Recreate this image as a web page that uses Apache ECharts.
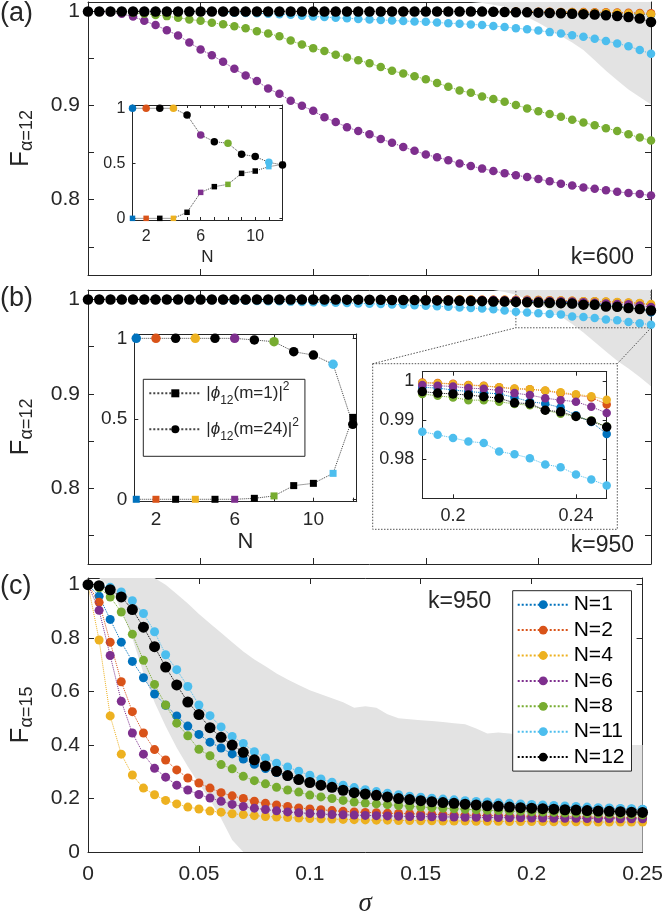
<!DOCTYPE html>
<html><head><meta charset="utf-8">
<script src="https://cdn.jsdelivr.net/npm/echarts@6/dist/echarts.min.js"></script>
<style>html,body{margin:0;padding:0;background:#fff}#c{width:666px;height:918px}</style>
</head><body><div id="c"></div>
<script>
// ---------------- DATA ----------------
const sigma = [0,0.005,0.01,0.015,0.02,0.025,0.03,0.035,0.04,0.045,0.05,0.055,0.06,0.065,0.07,0.075,0.08,0.085,0.09,0.095,
  0.1,0.105,0.11,0.115,0.12,0.125,0.13,0.135,0.14,0.145,0.15,0.155,0.16,0.165,0.17,0.175,0.18,0.185,0.19,0.195,
  0.2,0.205,0.21,0.215,0.22,0.225,0.23,0.235,0.24,0.245,0.25];
const seriesNames = ['N=1','N=2','N=4','N=6','N=8','N=11','N=12'];

// panel (a), k=600
const aN1 = [1,1,1,1,1,1,1,1,1,1, 1,1,1,1,1,1,1,1,1,1, 1,1,1,1,1,1,1,1,1,1,
  1,0.9999,0.9999,0.9998,0.9998,0.9997,0.9996,0.9995,0.9994,0.9993,
  0.9992,0.999,0.9989,0.9987,0.9985,0.9983,0.998,0.9977,0.9974,0.997, 0.9965];
const aN2 = [1,1,1,1,1,1,1,1,1,1, 1,1,1,1,1,1,1,1,1,1, 1,1,1,1,1,1,1,1,1,1,
  1,1,1,1,0.9999,0.9999,0.9999,0.9998,0.9998,0.9997,
  0.9997,0.9996,0.9995,0.9994,0.9993,0.9992,0.999,0.9988,0.9986,0.9983, 0.998];
const aN4 = [1,1,1,1,1,1,1,1,1,1, 1,1,1,1,1,1,1,1,1,1, 1,1,1,1,1,1,1,1,1,1,
  1,1,1,0.9999,0.9999,0.9998,0.9998,0.9997,0.9996,0.9995,
  0.9994,0.9993,0.9992,0.999,0.9989,0.9987,0.9985,0.9982,0.9979,0.9975, 0.997];
const aN6 = [1,0.9998,0.9992,0.9975,0.9945,0.99,0.9855,0.98,0.9745,0.967,
  0.9595,0.9535,0.9465,0.939,0.932,0.926,0.918,0.9125,0.905,0.8997,
  0.8944,0.8875,0.8825,0.877,0.873,0.8695,0.8645,0.8605,0.856,0.852,
  0.848,0.845,0.842,0.8385,0.8358,0.833,0.8305,0.828,0.826,0.824,
  0.822,0.8195,0.817,0.815,0.813,0.8115,0.81,0.8085,0.807,0.806, 0.8045];
const aN8 = [1,1,0.9998,0.9993,0.9985,0.9975,0.9962,0.995,0.9932,0.9915,
  0.99,0.988,0.9863,0.9842,0.9822,0.979,0.9765,0.9735,0.969,0.9648,
  0.961,0.958,0.954,0.951,0.948,0.945,0.941,0.937,0.934,0.931,
  0.928,0.924,0.92,0.916,0.9135,0.9095,0.907,0.904,0.9007,0.897,
  0.894,0.891,0.888,0.885,0.882,0.879,0.876,0.873,0.8695,0.866, 0.8628];
const aN11 = [1,1,1,1,1,1,1,1,1,0.9998,
  0.9996,0.9993,0.999,0.9987,0.9983,0.998,0.9976,0.997,0.9964,0.9955,
  0.9947,0.994,0.9933,0.9927,0.992,0.9915,0.991,0.9903,0.9898,0.9893,
  0.989,0.9882,0.9875,0.987,0.9862,0.9855,0.9845,0.9835,0.9822,0.981,
  0.9797,0.978,0.9765,0.9748,0.973,0.971,0.9685,0.966,0.963,0.959, 0.955];
const aN12 = [1,1,1,1,1,1,1,1,1,1, 1,1,1,1,1,1,1,1,1,1, 1,1,1,1,1,1,1,1,1,1,
  1,1,1,1,1,0.9998,0.9996,0.9994,0.9992,0.999,
  0.9987,0.9984,0.998,0.9976,0.9971,0.9966,0.996,0.9952,0.9941,0.9925, 0.9888];
const bandA_x  = [0.17,0.175,0.18,0.185,0.19,0.195,0.2,0.205,0.21,0.215,0.22,0.225,0.23,0.235,0.24,0.245,0.25];
const bandA_lo = [1.012,1.009,1.007,1.005,1.0,0.994,0.988,0.981,0.974,0.967,0.959,0.948,0.937,0.927,0.917,0.909,0.901];
const bandA_hi = [1.05,1.05,1.05,1.05,1.05,1.05,1.05,1.05,1.05,1.05,1.05,1.05,1.05,1.05,1.05,1.05,1.05];

// panel (b), k=950
const bN1 = [1,1,1,1,1,1,1,1,1,1, 1,1,1,1,1,1,1,1,1,1,
  0.9999,0.9998,0.9997,0.9997,0.9996,0.9996,0.9995,0.9994,0.9993,0.9993,
  0.9992,0.9991,0.999,0.9989,0.9988,0.9987,0.9986,0.9986,0.9985,0.9983,
  0.9978,0.9974,0.9971,0.9968,0.9959,0.9948,0.9943,0.9933,0.9913,0.9896, 0.9865];
const bN2 = [1,1,1,1,1,1,1,1,1,1, 1,1,1,1,1,1,1,1,1,1, 1,1,1,1,1,1,1,1,1,1,
  1,1,1,0.9999,0.9999,0.9998,0.9998,0.9997,0.9997,0.9996,
  0.9994,0.9991,0.9989,0.9985,0.9981,0.998,0.9976,0.997,0.9965,0.9959, 0.9941];
const bN4 = [1,1,1,1,1,1,1,1,1,1, 1,1,1,1,1,1,1,1,1,1, 1,1,1,1,1,1,1,1,1,1,
  1,1,1,1,0.9999,0.9998,0.9998,0.9997,0.9996,0.9995,
  0.9993,0.999,0.9988,0.9985,0.9982,0.998,0.9977,0.9972,0.9967,0.9962, 0.9953];
const bN6 = [1,1,1,1,1,1,1,1,1,1, 1,1,1,1,1,1,1,1,1,1,
  1,1,1,1,1,1,1,0.9999,0.9998,0.9998,
  0.9997,0.9996,0.9996,0.9995,0.9994,0.9994,0.9993,0.9992,0.9991,0.9989,
  0.9987,0.9983,0.9981,0.9977,0.997,0.9965,0.9957,0.9952,0.9948,0.9935, 0.9919];
const bN8 = [1,1,1,1,1,1,1,1,1,1,
  1,1,1,1,1,1,1,0.9999,0.9998,0.9997,
  0.9996,0.9995,0.9994,0.9993,0.9992,0.999,0.9989,0.9987,0.9986,0.9984,
  0.9983,0.9981,0.998,0.9978,0.9976,0.9974,0.9972,0.997,0.9968,0.9963,
  0.9959,0.9952,0.9952,0.9948,0.9942,0.9939,0.9926,0.9917,0.991,0.99, 0.9884];
const bN11 = [1,1,1,1,1,0.9999,0.9998,0.9997,0.9996,0.9995,
  0.9994,0.9992,0.999,0.9988,0.9986,0.9984,0.9982,0.998,0.9977,0.9974,
  0.9971,0.9968,0.9965,0.9962,0.9958,0.9955,0.9951,0.9947,0.9943,0.9938,
  0.9933,0.9928,0.9922,0.9916,0.991,0.9903,0.9895,0.9883,0.9871,0.9863,
  0.9855,0.9846,0.9842,0.982,0.9813,0.9803,0.9787,0.978,0.9761,0.9748, 0.9733];
const bN12 = [1,1,1,1,1,1,1,1,1,1, 1,1,1,1,1,1,1,1,1,1,
  1,0.9999,0.9999,0.9998,0.9998,0.9997,0.9996,0.9995,0.9994,0.9993,
  0.9992,0.999,0.9988,0.9986,0.9984,0.9982,0.9979,0.9977,0.9974,0.997,
  0.9968,0.9965,0.9961,0.9957,0.9945,0.9943,0.9926,0.9922,0.991,0.9898, 0.9883];
const bandB_x  = [0.18,0.185,0.19,0.195,0.2,0.205,0.21,0.215,0.22,0.225,0.23,0.235,0.24,0.245,0.25];
const bandB_lo = [1.012,1.008,1.005,1.0,0.995,0.989,0.982,0.974,0.965,0.955,0.945,0.935,0.927,0.918,0.908];
const bandB_hi = [1.05,1.05,1.05,1.05,1.05,1.05,1.05,1.05,1.05,1.05,1.05,1.05,1.05,1.05,1.05];
const zoomX = [0.19, 0.25];
const zoomY = [0.97, 1.009];

// panel (c), k=950
const cN1 = [1,0.957,0.87,0.785,0.713,0.652,0.591,0.549,0.509,0.471,
  0.44,0.411,0.389,0.367,0.348,0.328,0.312,0.297,0.283,0.27,
  0.26,0.25,0.241,0.233,0.226,0.22,0.214,0.209,0.204,0.2,
  0.196,0.193,0.19,0.187,0.184,0.182,0.18,0.178,0.176,0.174,
  0.173,0.171,0.169,0.168,0.166,0.165,0.163,0.162,0.161,0.16, 0.159];
const cN2 = [1,0.934,0.785,0.637,0.525,0.445,0.383,0.344,0.307,0.277,
  0.258,0.239,0.222,0.21,0.2,0.19,0.182,0.176,0.17,0.165,
  0.161,0.158,0.155,0.152,0.15,0.148,0.147,0.145,0.144,0.143,
  0.142,0.141,0.14,0.139,0.138,0.137,0.136,0.136,0.135,0.134,
  0.134,0.133,0.132,0.132,0.131,0.131,0.13,0.13,0.129,0.128, 0.128];
const cN4 = [1,0.793,0.509,0.366,0.288,0.239,0.214,0.193,0.18,0.168,
  0.161,0.153,0.149,0.143,0.14,0.136,0.133,0.131,0.129,0.127,
  0.125,0.124,0.123,0.122,0.121,0.12,0.119,0.119,0.118,0.118,
  0.117,0.117,0.116,0.116,0.116,0.115,0.115,0.115,0.114,0.114,
  0.114,0.114,0.113,0.113,0.113,0.113,0.112,0.112,0.112,0.112, 0.112];
const cN6 = [1,0.904,0.735,0.564,0.445,0.366,0.313,0.28,0.25,0.232,
  0.215,0.202,0.19,0.178,0.17,0.164,0.159,0.154,0.15,0.147,
  0.144,0.142,0.14,0.139,0.138,0.137,0.136,0.135,0.134,0.133,
  0.133,0.132,0.131,0.131,0.13,0.13,0.129,0.129,0.128,0.128,
  0.127,0.127,0.126,0.126,0.126,0.125,0.125,0.125,0.124,0.124, 0.124];
const cN8 = [1,0.988,0.954,0.898,0.815,0.717,0.627,0.55,0.482,0.435,
  0.384,0.36,0.327,0.311,0.283,0.267,0.255,0.242,0.232,0.224,
  0.213,0.206,0.2,0.193,0.187,0.183,0.18,0.177,0.174,0.171,
  0.168,0.166,0.164,0.162,0.16,0.158,0.156,0.155,0.153,0.152,
  0.15,0.149,0.148,0.146,0.145,0.144,0.143,0.142,0.141,0.14, 0.139];
const cN11 = [1,0.997,0.99,0.973,0.94,0.892,0.824,0.738,0.682,0.619,
  0.55,0.51,0.468,0.432,0.406,0.375,0.352,0.332,0.318,0.302,
  0.287,0.273,0.261,0.25,0.241,0.233,0.226,0.22,0.214,0.209,
  0.205,0.201,0.198,0.195,0.192,0.189,0.187,0.184,0.182,0.18,
  0.178,0.176,0.174,0.172,0.17,0.168,0.166,0.165,0.163,0.162, 0.16];
const cN12 = [1,0.996,0.981,0.954,0.907,0.841,0.768,0.692,0.625,0.561,
  0.514,0.465,0.429,0.4,0.373,0.345,0.322,0.302,0.286,0.271,
  0.26,0.25,0.242,0.231,0.222,0.217,0.212,0.206,0.2,0.196,
  0.192,0.188,0.185,0.182,0.179,0.176,0.173,0.171,0.168,0.166,
  0.164,0.162,0.16,0.158,0.157,0.155,0.153,0.152,0.151,0.149, 0.148];
const bandC_x = [0.005,0.01,0.015,0.02,0.025,0.03,0.035,0.04,0.045,0.05,0.055,0.06,0.065,0.07,0.075,0.08,0.085,0.09,0.095,
  0.1,0.105,0.11,0.115,0.12,0.125,0.13,0.135,0.14,0.145,0.15,0.155,0.16,0.165,0.17,0.175,0.18,0.185,0.19,0.195,
  0.2,0.205,0.21,0.215,0.22,0.225,0.23,0.235,0.24,0.245,0.25];
const bandC_lo = [1.12,0.99,0.905,0.8,0.67,0.56,0.47,0.39,0.32,0.255,0.195,0.125,0.045,0,0,0,0,0,0,
  0,0,0,0,0,0,0,0,0,0,0,0,0,0,0,0,0,0,0,0,
  0,0,0,0,0,0,0,0,0,0,0];
const bandC_hi = [1.3,1.25,1.2,1.15,1.09,1.04,1.0,0.965,0.93,0.89,0.855,0.82,0.785,0.75,0.72,0.695,0.668,0.645,0.625,
  0.605,0.59,0.575,0.56,0.54,0.545,0.54,0.515,0.5,0.497,0.493,0.49,0.486,0.482,0.478,0.462,0.443,0.447,0.443,0.438,
  0.41,0.4,0.4,0.4,0.4,0.4,0.4,0.4,0.4,0.4,0.4];

// insets: |phi_12(m)|^2 vs N
const insetN = [1,2,3,4,5,6,7,8,9,10,11,12];
const insetA_m24 = [1,1,1,1,0.939,0.758,0.697,0.682,0.582,0.561,0.509,0.485];
const insetA_m1  = [0,0,0,0,0.055,0.236,0.288,0.309,0.409,0.43,0.47,0.49];
const insetB_m24 = [1,1,1,1,1,1,0.99,0.979,0.917,0.896,0.839,0.466];
const insetB_m1  = [0,0,0,0,0,0,0.006,0.021,0.085,0.099,0.161,0.509];

// tick values
const xTicks = [0,0.05,0.1,0.15,0.2,0.25];
const yTicksAB = [0.75,0.8,0.85,0.9,0.95,1];
const yLabelsAB = [0.8,0.9,1];
const yTicksC = [0,0.2,0.4,0.6,0.8,1];
const insetNTicksA = [1,2,3,4,5,6,7,8,9,10,11,12];
const insetNTicksB = [2,4,6,8,10,12];
const insetNLabels = [2,6,10];
const insetYTicks = [0,0.5,1];
const zoomXTicks = [0.2,0.24];
const zoomYTicks = [0.98,0.99,1];

// ---------------- STYLE ----------------
const COLORS = ['#0072BD','#D95319','#EDB120','#7E2F8E','#77AC30','#4DBEEE','#000000'];
const pointColors = ['#0072BD','#D95319','#000000','#EDB120','#000000','#7E2F8E','#000000','#77AC30','#000000','#000000','#4DBEEE','#000000'];
const FONT = 'Liberation Sans, Arial, Helvetica, sans-serif';
const AX = '#262626';
const GRAY = '#e3e3e3';
const fmt = v => String(Math.round(v * 10000) / 10000);

const G = [
  {left: 88, top: 2,   width: 563, height: 273},
  {left: 88, top: 290, width: 563, height: 274},
  {left: 88, top: 578, width: 563, height: 276},
  {left: 132.5, top: 105, width: 150, height: 115},
  {left: 134.3, top: 334, width: 222.4, height: 167.7},
  {left: 422.3, top: 371.7, width: 184.4, height: 126.6}
];

const grids = G.map((g, i) => Object.assign({}, g, i >= 3
  ? {show: true, backgroundColor: '#fff', borderWidth: 0, zlevel: 1, z: 1}
  : {show: false}));

function mkAxis(dim, gi, min, max, ticks, labels, o) {
  const pos = dim === 'x' ? ['bottom', 'top'] : ['left', 'right'];
  return pos.map((p, k) => {
    const ax = {
      gridIndex: gi, type: 'value', position: p, min: min, max: max,
      zlevel: o.zlevel || 0, z: o.z || 0,
      axisLine: {show: true, onZero: false, lineStyle: {color: AX, width: 1}},
      axisTick: {show: true, inside: true, length: o.tl, customValues: ticks.slice(), lineStyle: {color: AX, width: 1}},
      splitLine: {show: false},
      axisLabel: (k === 0 && labels) ? {show: true, customValues: labels.slice(), fontSize: o.fs, fontFamily: FONT,
        color: AX, margin: o.margin, formatter: fmt} : {show: false}
    };
    if (k === 0 && o.nameOpt) Object.assign(ax, o.nameOpt);
    return ax;
  });
}
function yName(sub) {
  return {
    name: '{F|F}{s|\u03b1=' + sub + '}', nameLocation: 'middle', nameRotate: 90, nameGap: 52,
    nameTextStyle: {rich: {
      F: {fontSize: 26, fontFamily: FONT, color: AX, lineHeight: 30, verticalAlign: 'middle'},
      s: {fontSize: 18, fontFamily: FONT, color: AX, lineHeight: 16, verticalAlign: 'bottom'}
    }}
  };
}
const IN = {zlevel: 1, z: 2};
const xAxes = [].concat(
  mkAxis('x', 0, 0, 0.25, xTicks, null, {tl: 6}),
  mkAxis('x', 1, 0, 0.25, xTicks, null, {tl: 6}),
  mkAxis('x', 2, 0, 0.25, xTicks, xTicks, {tl: 6, fs: 21, margin: 12,
    nameOpt: {name: '\u03c3', nameLocation: 'middle', nameGap: 38,
      nameTextStyle: {fontSize: 27, fontStyle: 'italic', fontFamily: 'Liberation Serif, Times New Roman, serif', color: AX}}}),
  mkAxis('x', 3, 1, 12, insetNTicksA, insetNLabels, Object.assign({tl: 3, fs: 16, margin: 9,
    nameOpt: {name: 'N', nameLocation: 'middle', nameGap: 29, nameTextStyle: {fontSize: 17, fontFamily: FONT, color: AX}}}, IN)),
  mkAxis('x', 4, 0.9, 12.2, insetNTicksB, insetNLabels, Object.assign({tl: 4, fs: 19, margin: 9,
    nameOpt: {name: 'N', nameLocation: 'middle', nameGap: 26, nameTextStyle: {fontSize: 22, fontFamily: FONT, color: AX}}}, IN)),
  mkAxis('x', 5, 0.19, 0.25, zoomXTicks, zoomXTicks, Object.assign({tl: 4, fs: 18, margin: 9}, IN))
);
const yRanges = [[0.72, 1.01], [0.72, 1.01], [0, 1.025]];
const yAxes = [].concat(
  mkAxis('y', 0, yRanges[0][0], yRanges[0][1], yTicksAB, yLabelsAB, {tl: 6, fs: 21, margin: 8, nameOpt: yName('12')}),
  mkAxis('y', 1, yRanges[1][0], yRanges[1][1], yTicksAB, yLabelsAB, {tl: 6, fs: 21, margin: 8, nameOpt: yName('12')}),
  mkAxis('y', 2, yRanges[2][0], yRanges[2][1], yTicksC, yTicksC, {tl: 6, fs: 21, margin: 8, nameOpt: yName('15')}),
  mkAxis('y', 3, -0.015, 1.03, insetYTicks, insetYTicks, Object.assign({tl: 3, fs: 16, margin: 7}, IN)),
  mkAxis('y', 4, -0.015, 1.027, insetYTicks, insetYTicks, Object.assign({tl: 4, fs: 19, margin: 7}, IN)),
  mkAxis('y', 5, 0.97, 1.0025, zoomYTicks, zoomYTicks, Object.assign({tl: 4, fs: 18, margin: 8}, IN))
);

const series = [];
// shaded band: polygon between lower and upper bounds, placed with the axes' own scales
function addBand(gi, xs, lo, hi, id) {
  const yMin = yRanges[gi][0], yMax = yRanges[gi][1];
  const clampY = v => Math.max(yMin, Math.min(yMax, v));
  series.push({
    type: 'custom', id: id, xAxisIndex: 2 * gi, yAxisIndex: 2 * gi, silent: true, z: 1, clip: true,
    data: xs.map((x, i) => [x, lo[i], hi[i]]),
    encode: {x: 0, y: [1, 2]},
    renderItem: function (params, api) {
      if (params.dataIndex !== 0) return null;
      const upper = [], lower = [];
      for (let i = 0; i < xs.length; i++) {
        const x = api.value(0, i);
        upper.push(api.coord([x, clampY(api.value(2, i))]));
        lower.unshift(api.coord([x, clampY(api.value(1, i))]));
      }
      return {type: 'polygon', shape: {points: upper.concat(lower)}, style: {fill: GRAY, stroke: null}};
    }
  });
}
function addMain(gi, arrs, sizes, start, extra) {
  arrs.forEach((arr, k) => {
    const data = [];
    for (let i = start; i < sigma.length; i++) data.push([sigma[i], arr[i]]);
    series.push(Object.assign({
      type: 'line', name: seriesNames[k], xAxisIndex: 2 * gi, yAxisIndex: 2 * gi,
      data: data, symbol: 'circle', symbolSize: sizes[k], showSymbol: true, clip: true,
      itemStyle: {color: COLORS[k]},
      lineStyle: {color: COLORS[k], width: 1, type: 'dotted'},
      z: 3 + k
    }, extra || {}));
  });
}
addBand(0, bandA_x, bandA_lo, bandA_hi, 'bandA');
addBand(1, bandB_x, bandB_lo, bandB_hi, 'bandB');
addBand(2, bandC_x, bandC_lo, bandC_hi, 'bandC');
const mainSizes = [8.5, 8.5, 8.5, 8.5, 8.5, 8.5, 10.5];
addMain(0, [aN1, aN2, aN4, aN6, aN8, aN11, aN12], mainSizes, 0);
addMain(1, [bN1, bN2, bN4, bN6, bN8, bN11, bN12], mainSizes, 0);
addMain(2, [cN1, cN2, cN4, cN6, cN8, cN11, cN12], [9, 9, 9, 9, 9, 9, 11], 0);
// zoomed inset of panel (b): same data, sigma >= 0.19
addMain(5, [bN1, bN2, bN4, bN6, bN8, bN11, bN12], [8.5, 8.5, 8.5, 8.5, 8.5, 8.5, 9.5], 38, {zlevel: 1});
// zoom rectangle in panel (b)
series.push({type: 'line', id: 'zoomRect', xAxisIndex: 2, yAxisIndex: 2, symbol: 'none', silent: true, z: 2,
  data: [[zoomX[0], zoomY[1]], [zoomX[0], zoomY[0]], [zoomX[1], zoomY[0]], [zoomX[1], zoomY[1]]],
  lineStyle: {color: '#555', width: 1, type: [1.5, 1.5]}});

function addInset(gi, vals, name, sym, size) {
  series.push({
    type: 'line', name: name, xAxisIndex: 2 * gi, yAxisIndex: 2 * gi, zlevel: 1, z: 3,
    symbol: sym, symbolSize: size, showSymbol: true,
    data: insetN.map((n, i) => ({value: [n, vals[i]], itemStyle: {color: pointColors[i]}})),
    itemStyle: {color: '#000'},
    lineStyle: {color: '#444', width: 1, type: 'dotted'}
  });
}
addInset(3, insetA_m1, 'a_m1', 'rect', 5.5);
addInset(3, insetA_m24, 'a_m24', 'circle', 7.5);
addInset(4, insetB_m1, 'm1', 'rect', 7);
addInset(4, insetB_m24, 'm24', 'circle', 9.5);

const legendRich = {
  n: {fontSize: 17, fontFamily: FONT, color: AX, lineHeight: 26, verticalAlign: 'middle'},
  i: {fontSize: 17, fontFamily: FONT, fontStyle: 'italic', color: AX, lineHeight: 26, verticalAlign: 'middle'},
  sub: {fontSize: 12, fontFamily: FONT, color: AX, lineHeight: 12, verticalAlign: 'bottom'},
  sup: {fontSize: 12, fontFamily: FONT, color: AX, lineHeight: 12, verticalAlign: 'top'}
};

const option = {
  animation: false,
  backgroundColor: '#fff',
  grid: grids,
  xAxis: xAxes,
  yAxis: yAxes,
  legend: [
    {data: seriesNames, orient: 'vertical', left: 512.7, top: 590.7, selectedMode: false,
      itemWidth: 51, itemHeight: 11, itemGap: 3.4, padding: [3, 7, 3, 4],
      borderColor: AX, borderWidth: 1, backgroundColor: '#fff', z: 20,
      textStyle: {fontSize: 21, fontFamily: FONT, color: '#000', lineHeight: 22}},
    {data: ['m1', 'm24'], orient: 'vertical', left: 143.3, top: 379.3, selectedMode: false,
      itemWidth: 52, itemHeight: 10, itemGap: 10, padding: [1, 6, 14, 5], zlevel: 1, z: 20,
      borderColor: AX, borderWidth: 1, backgroundColor: '#fff',
      formatter: nm => '{n||}{i|\u03d5}{sub|12}{n|(m=' + (nm === 'm1' ? '1' : '24') + ')|}{sup|2}',
      textStyle: {rich: legendRich}}
  ],
  series: series
};

const chart = echarts.init(document.getElementById('c'), null, {renderer: 'canvas'});
chart.setOption(option);

// decorations: panel letters, k labels, zoom connectors (positions from the library's scales)
const gz = G[5];
const box = {x1: gz.left - 49.6, y1: gz.top - 8, x2: gz.left + gz.width + 10.6, y2: gz.top + gz.height + 31};
const pBL = chart.convertToPixel({seriesId: 'zoomRect'}, [zoomX[0], zoomY[0]]);
const pBR = chart.convertToPixel({seriesId: 'zoomRect'}, [zoomX[1], zoomY[0]]);
const dash = {stroke: '#555', lineWidth: 1, lineDash: [1.5, 1.5], fill: null};
function txt(t, x, y, size, align) {
  return {type: 'text', x: x, y: y, z: 30, style: {text: t, fontSize: size, fontFamily: FONT, fill: AX,
    align: align || 'left', verticalAlign: 'middle'}};
}
chart.setOption({graphic: [
  txt('(a)', 0, 14, 27), txt('(b)', 0, 299, 27), txt('(c)', 0, 587, 27),
  txt('k=600', 634, 258, 23, 'right'), txt('k=950', 634, 546, 23, 'right'), txt('k=950', 428, 602, 23),
  {type: 'rect', zlevel: 1, z: 0, shape: {x: box.x1, y: box.y1, width: box.x2 - box.x1, height: box.y2 - box.y1},
    style: Object.assign({}, dash, {fill: '#fff'})},
  {type: 'polyline', zlevel: 1, z: 0, shape: {points: [[box.x1, box.y1], pBL]}, style: dash},
  {type: 'polyline', zlevel: 1, z: 0, shape: {points: [[box.x2, box.y1], pBR]}, style: dash}
]});
</script>
</body></html>
